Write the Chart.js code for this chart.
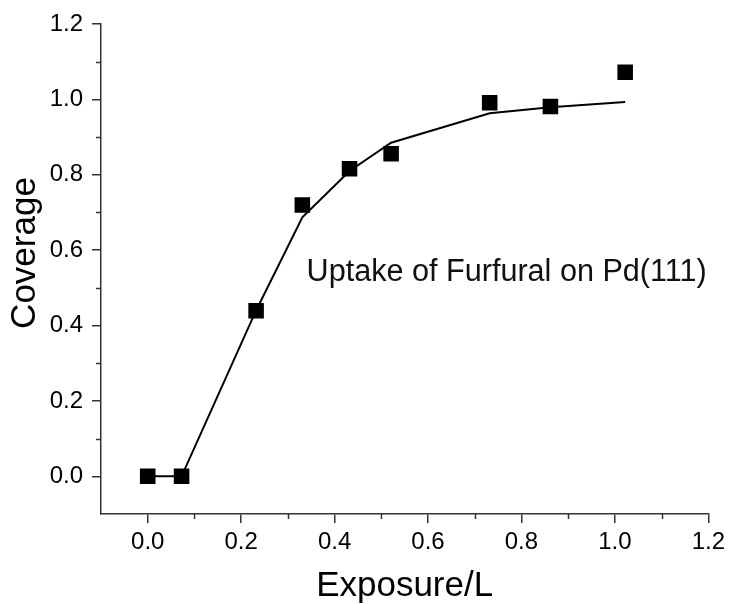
<!DOCTYPE html>
<html>
<head>
<meta charset="utf-8">
<script src="https://cdn.jsdelivr.net/npm/chart.js@4/dist/chart.umd.min.js"></script>
<style>
  html, body { margin: 0; padding: 0; background: #fff; }
  #wrap { width: 730px; height: 604px; position: relative; }
</style>
</head>
<body>
<div id="wrap"><canvas id="c" width="730" height="604"></canvas></div>
<script>
// ---- data ----
const exposure = [0, 0.0725, 0.232, 0.331, 0.432, 0.521, 0.732, 0.862, 1.022];
const coverage = [0, 0, 0.439, 0.720, 0.816, 0.856, 0.991, 0.981, 1.072];
const fitCoverage = [0, 0, 0.44, 0.687, 0.81, 0.885, 0.963, 0.979, 0.993];
const xMajorTicks = [0, 0.2, 0.4, 0.6, 0.8, 1.0, 1.2];
const xMinorTicks = [0.1, 0.3, 0.5, 0.7, 0.9, 1.1];
const yMajorTicks = [0, 0.2, 0.4, 0.6, 0.8, 1.0, 1.2];
const yMinorTicks = [0.1, 0.3, 0.5, 0.7, 0.9, 1.1];
const xTitle = 'Exposure/L';
const yTitle = 'Coverage';
const annotationText = 'Uptake of Furfural on Pd(111)';
const annotationPos = { x: 0.34, y: 0.518 };

const FONT = '"Liberation Sans", Arial, sans-serif';
const AXIS = '#333333';

const extras = {
  id: 'extras',
  afterDraw(chart) {
    const ctx = chart.ctx;
    const xs = chart.scales.x, ys = chart.scales.y;
    const area = chart.chartArea;
    ctx.save();
    ctx.strokeStyle = AXIS;
    ctx.lineWidth = 1.5;
    // minor ticks
    xMinorTicks.forEach(v => {
      const px = Math.round(xs.getPixelForValue(v)) + 0.5;
      ctx.beginPath();
      ctx.moveTo(px, area.bottom);
      ctx.lineTo(px, area.bottom + 5);
      ctx.stroke();
    });
    yMinorTicks.forEach(v => {
      const py = Math.round(ys.getPixelForValue(v)) + 0.5;
      ctx.beginPath();
      ctx.moveTo(area.left, py);
      ctx.lineTo(area.left - 5, py);
      ctx.stroke();
    });
    // annotation
    ctx.fillStyle = '#111';
    ctx.font = '30.6px ' + FONT;
    ctx.textAlign = 'left';
    ctx.textBaseline = 'alphabetic';
    ctx.fillText(annotationText, xs.getPixelForValue(annotationPos.x), ys.getPixelForValue(annotationPos.y));
    // y title
    ctx.translate(ys.left + 25, (area.top + area.bottom) / 2 - 16);
    ctx.rotate(-Math.PI / 2);
    ctx.font = '35px ' + FONT;
    ctx.textAlign = 'center';
    ctx.textBaseline = 'middle';
    ctx.fillStyle = '#000';
    ctx.fillText(yTitle, 0, 0);
    ctx.restore();
  }
};

new Chart(document.getElementById('c'), {
  type: 'scatter',
  data: {
    datasets: [
      {
        label: 'fit',
        data: exposure.map((x, i) => ({ x: x, y: fitCoverage[i] })),
        showLine: true,
        borderColor: '#000',
        borderWidth: 2,
        pointRadius: 0,
        tension: 0,
        fill: false
      },
      {
        label: 'Coverage',
        data: exposure.map((x, i) => ({ x: x, y: coverage[i] })),
        showLine: false,
        pointStyle: 'rect',
        pointRadius: 11,
        pointHoverRadius: 11,
        backgroundColor: '#000',
        borderColor: '#000',
        borderWidth: 0
      }
    ]
  },
  options: {
    responsive: false,
    animation: false,
    events: [],
    layout: { padding: { left: 0, right: 15, top: 24, bottom: 0 } },
    plugins: { legend: { display: false }, tooltip: { enabled: false } },
    scales: {
      x: {
        type: 'linear',
        min: -0.1,
        max: 1.2,
        afterBuildTicks(s) { s.ticks = xMajorTicks.map(v => ({ value: v })); },
        afterFit(s) { s.height = 90; },
        ticks: {
          callback: v => Number(v).toFixed(1),
          font: { family: FONT, size: 24 },
          color: '#000',
          padding: 5,
          maxRotation: 0,
          autoSkip: false
        },
        grid: { drawOnChartArea: false, drawTicks: true, tickLength: 9, color: AXIS, lineWidth: 1.5 },
        border: { display: true, color: AXIS, width: 1.5 },
        title: {
          display: true,
          text: xTitle,
          font: { family: FONT, size: 35, lineHeight: 1 },
          color: '#000',
          padding: 0
        }
      },
      y: {
        type: 'linear',
        min: -0.1,
        max: 1.2,
        afterBuildTicks(s) { s.ticks = yMajorTicks.map(v => ({ value: v })); },
        afterFit(s) { s.width = 101; },
        ticks: {
          callback: v => Number(v).toFixed(1),
          font: { family: FONT, size: 24 },
          color: '#000',
          padding: 9,
          autoSkip: false
        },
        grid: { drawOnChartArea: false, drawTicks: true, tickLength: 9, color: AXIS, lineWidth: 1.5 },
        border: { display: true, color: AXIS, width: 1.5 }
      }
    }
  },
  plugins: [extras]
});
</script>
</body>
</html>
